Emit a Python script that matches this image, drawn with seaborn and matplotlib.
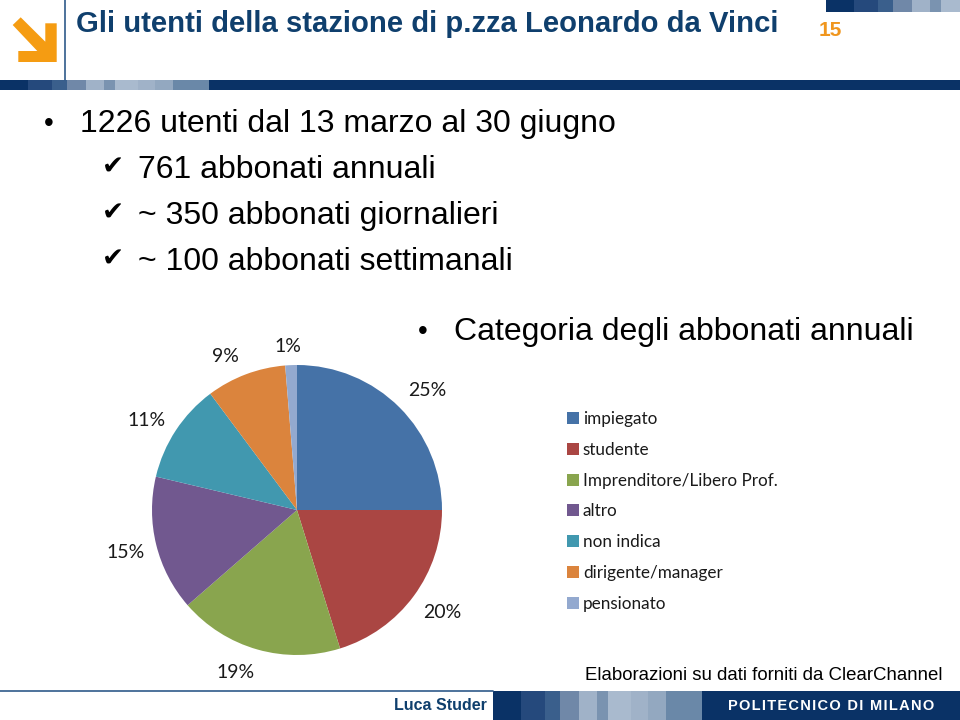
import numpy as np
import matplotlib
matplotlib.use("Agg")
import matplotlib.pyplot as plt
import seaborn as sns
from matplotlib.patches import Polygon, Rectangle

# pie data, slice sizes as measured on the picture, labels as printed
categories = ['impiegato', 'studente', 'Imprenditore/Libero Prof.', 'altro',
              'non indica', 'dirigente/manager', 'pensionato']
shares = [25, 20.2, 18.4, 15.1, 11.1, 8.9, 1.3]
share_labels = ['25%', '20%', '19%', '15%', '11%', '9%', '1%']
pie_colors = ['#4572a7', '#aa4643', '#89a54e', '#71588f', '#4198af', '#db843d', '#93a9cf']

# slide text
title = 'Gli utenti della stazione di p.zza Leonardo da Vinci'
main_line = '1226 utenti dal 13 marzo al 30 giugno'
check_lines = ['761 abbonati annuali', '~ 350 abbonati giornalieri', '~ 100 abbonati settimanali']
pie_heading = 'Categoria degli abbonati annuali'
source_note = 'Elaborazioni su dati forniti da ClearChannel'

# the striped band of the template
band_widths = [28, 24, 15, 19, 18, 11, 23, 17, 18, 36]
band_colors = ['#0a3266', '#25497c', '#3a5f8c', '#7088a8', '#a0b2c8',
               '#7a93b0', '#a9bace', '#a0b2c8', '#93a8c0', '#6a88a8']
navy = '#0a3266'

sns.set_theme(style='white')
plt.rcParams['font.family'] = ['Liberation Sans', 'DejaVu Sans']

fig = plt.figure(figsize=(9.6, 7.2), dpi=100)

# background axes in pixels for the template
bg = fig.add_axes([0, 0, 1, 1])
bg.set_xlim(0, 960)
bg.set_ylim(720, 0)
bg.axis('off')

def stripes(x0, y0, h):
    x = x0
    for w, c in zip(band_widths, band_colors):
        bg.add_patch(Rectangle((x, y0), w, h, color=c, lw=0))
        x += w
    return x

end = stripes(0, 80, 10)
bg.add_patch(Rectangle((end, 80), 960 - end, 10, color=navy, lw=0))
stripes(826, 0, 12)
end = stripes(493, 691, 29)
bg.add_patch(Rectangle((end, 691), 960 - end, 29, color=navy, lw=0))
bg.plot([0, 493], [691, 691], color='#2f5a8a', lw=1.2)
bg.plot([64.5, 64.5], [0, 80], color='#2f5a8a', lw=1.2)

arrow = [(12.7, 25), (20.7, 17.3), (45.3, 41.7), (45.3, 23.3), (56.7, 23.3),
         (56.7, 62), (18.3, 62), (18.3, 51), (37.3, 51)]
bg.add_patch(Polygon(arrow, closed=True, color='#f59c12', lw=0))

bg.text(76, 24, title, fontsize=21.1, fontweight='bold', color='#0f3f6d', va='center')
bg.text(819, 30, '15', fontsize=15, fontweight='bold', color='#f0961e', va='center')
bg.text(394, 705, 'Luca Studer', fontsize=11.5, fontweight='bold', color='#0f3f6d', va='center')
bg.text(585, 676, source_note, fontsize=13.4, color='black', va='center')
bg.text(728, 706, '\u200a'.join('POLITECNICO DI MILANO'), fontsize=10.5, fontweight='bold',
        color='white', va='center')

bg.text(44, 124, '\u2022', fontsize=20, color='black', va='center')
bg.text(80, 124, main_line, fontsize=23, color='black', va='center')
for y, line in zip([170, 216, 262], check_lines):
    bg.text(102, y - 2, '\u2714', fontsize=19, color='black', va='center')
    bg.text(138, y, line, fontsize=23, color='black', va='center')
bg.text(418, 332, '\u2022', fontsize=20, color='black', va='center')
bg.text(454, 332, pie_heading, fontsize=23, color='black', va='center')

# pie: centre (297,510), radius 145 px
half = 145 * 1.25
ax = fig.add_axes([(297 - half) / 960, (720 - 510 - half) / 720, 2 * half / 960, 2 * half / 720])
wedges, _ = ax.pie(shares, colors=pie_colors, startangle=90, counterclock=False,
                   frame=False, wedgeprops=dict(linewidth=0))
ax.set_xlim(-1.25, 1.25)
ax.set_ylim(-1.25, 1.25)

# the labels sit where the original chart left them, not on a circle
label_spots = [(427, 391), (442, 612), (236, 673), (126, 552), (147, 420), (225, 356), (288, 346)]
for (x, y), lab in zip(label_spots, share_labels):
    bg.text(x, y, lab, family='Lato', fontsize=14, color='#1a1a1a', ha='center', va='center')

fig.legend(wedges, categories, loc='upper left', bbox_to_anchor=(552 / 960, 1 - 396 / 720),
           frameon=False, prop=dict(family='Lato', size=12.3), labelspacing=0.86,
           handlelength=0.7, handleheight=0.7, handletextpad=0.2, labelcolor='#1a1a1a')

fig.savefig('out.png', dpi=100)
